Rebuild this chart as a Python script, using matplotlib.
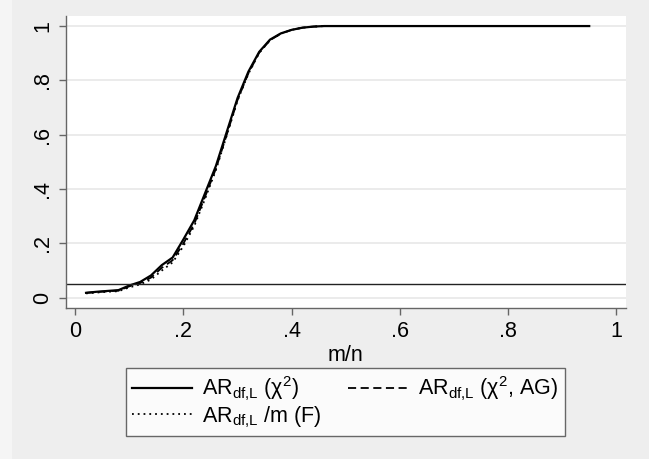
import matplotlib
matplotlib.use("Agg")
import matplotlib.pyplot as plt
from matplotlib.patches import Rectangle

plt.rcParams['font.family'] = ['Liberation Sans', 'DejaVu Sans']
plt.rcParams['mathtext.fontset'] = 'custom'
plt.rcParams['mathtext.rm'] = 'Liberation Sans'
plt.rcParams['mathtext.it'] = 'Liberation Sans:italic'

# rejection frequencies
mn = [0.02, 0.04, 0.06, 0.08, 0.10, 0.12, 0.14, 0.16, 0.18, 0.20, 0.22,
      0.24, 0.26, 0.28, 0.30, 0.32, 0.34, 0.36, 0.38, 0.40, 0.42, 0.44,
      0.46, 0.50, 0.60, 0.70, 0.80, 0.90, 0.95]
ar_chi2 = [0.018, 0.022, 0.025, 0.028, 0.045, 0.058, 0.082, 0.120, 0.148,
           0.215, 0.285, 0.385, 0.485, 0.610, 0.735, 0.832, 0.905, 0.950,
           0.973, 0.986, 0.994, 0.998, 1.0, 1.0, 1.0, 1.0, 1.0, 1.0, 1.0]
ar_chi2_ag = [0.018, 0.021, 0.024, 0.026, 0.042, 0.054, 0.074, 0.110, 0.138,
              0.200, 0.272, 0.372, 0.475, 0.600, 0.728, 0.826, 0.902, 0.948,
              0.972, 0.986, 0.994, 0.998, 1.0, 1.0, 1.0, 1.0, 1.0, 1.0, 1.0]
ar_f = [0.016, 0.019, 0.022, 0.024, 0.038, 0.049, 0.067, 0.100, 0.130,
        0.190, 0.264, 0.364, 0.470, 0.597, 0.726, 0.824, 0.901, 0.948,
        0.972, 0.986, 0.994, 0.998, 1.0, 1.0, 1.0, 1.0, 1.0, 1.0, 1.0]
nominal = 0.05

xticks = [0, 0.2, 0.4, 0.6, 0.8, 1]
xlabels = ['0', '.2', '.4', '.6', '.8', '1']
yticks = [0, 0.2, 0.4, 0.6, 0.8, 1]
ylabels = ['0', '.2', '.4', '.6', '.8', '1']

W, H = 649, 459
fig = plt.figure(figsize=(W / 100, H / 100), dpi=100, facecolor='#eeeeee')
fig.patches.append(Rectangle((0, 0), 12 / W, 1, transform=fig.transFigure,
                             facecolor='#f5f5f5', edgecolor='none', zorder=-1))

ax = fig.add_axes([65.5 / W, 1 - 307.5 / H, (626 - 65.5) / W, (307.5 - 16) / H])
ax.set_facecolor('white')

ax.grid(axis='y', color='#e8e8e8', linewidth=1.2)
ax.set_axisbelow(True)

sub = r'$_{\mathregular{df{,}L}}$'
l1, = ax.plot(mn, ar_chi2, color='black', linewidth=1.6,
              label='AR' + sub + r' (χ$^{\mathregular{2}}$)')
l2, = ax.plot(mn, ar_chi2_ag, color='black', linewidth=1.3, linestyle=(0, (4.5, 2.5)),
              label='AR' + sub + r' (χ$^{\mathregular{2}}$, AG)')
l3, = ax.plot(mn, ar_f, color='black', linewidth=1.3, linestyle=(0, (1, 2.2)),
              label='AR' + sub + ' /m (F)')
ax.axhline(nominal, color='#222222', linewidth=1.0)

ax.set_xlim(-0.018, 1.018)
ax.set_ylim(-0.036, 1.037)
ax.set_xticks(xticks)
ax.set_xticklabels(xlabels)
ax.set_yticks(yticks)
ax.set_yticklabels(ylabels, rotation=90, va='center')

for s in ['top', 'right']:
    ax.spines[s].set_visible(False)
for s in ['left', 'bottom']:
    ax.spines[s].set_color('#666666')
    ax.spines[s].set_linewidth(1.0)
ax.tick_params(axis='both', colors='#666666', labelcolor='black', length=5,
               width=1.0, labelsize=15.5)
ax.tick_params(axis='x', pad=5)
ax.tick_params(axis='y', pad=4)

ax.set_xlabel('m/n', fontsize=15.5, labelpad=2)

leg = fig.legend(handles=[l1, l3, l2], ncol=2, loc='lower left',
                 bbox_to_anchor=(125.5 / W, 1 - 436 / H, 439.5 / W, 65 / H),
                 mode='expand', fontsize=15.5, frameon=True, fancybox=False,
                 handlelength=2.8, handletextpad=0.45, columnspacing=1.0,
                 borderpad=0.3, labelspacing=0.05, borderaxespad=0)
leg.get_frame().set_edgecolor('#444444')
leg.get_frame().set_linewidth(1.0)

fig.savefig('out.png', dpi=100, facecolor=fig.get_facecolor())
